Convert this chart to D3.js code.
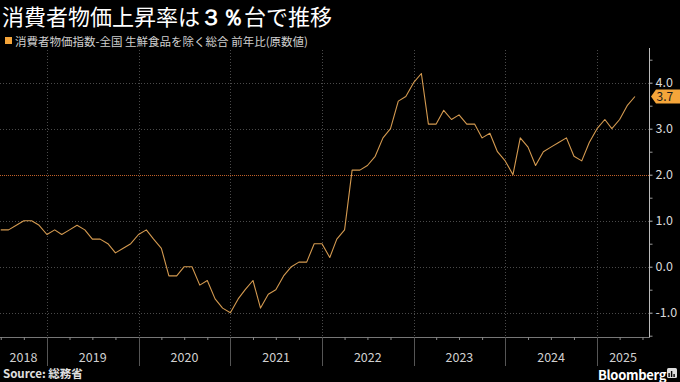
<!DOCTYPE html>
<html><head><meta charset="utf-8">
<script src="https://cdn.jsdelivr.net/npm/d3@7"></script>
<style>
html,body{margin:0;padding:0;background:#000;}
svg{display:block;}
text{font-family:"Noto Sans CJK JP","Noto Sans",sans-serif;}
</style></head>
<body>
<svg id="chart" width="680" height="382"></svg>
<script>
// ---- data (monthly y/y %, core CPI ex fresh food) ----
const startYear = 2018, startMonth = 6; // first value is June 2018
const cpi2018 = [0.8, 0.8, 0.9, 1.0, 1.0, 0.9, 0.7];
const cpi2019 = [0.8, 0.7, 0.8, 0.9, 0.8, 0.6, 0.6, 0.5, 0.3, 0.4, 0.5, 0.7];
const cpi2020 = [0.8, 0.6, 0.4, -0.2, -0.2, 0.0, 0.0, -0.4, -0.3, -0.7, -0.9, -1.0];
const cpi2021 = [-0.7, -0.5, -0.3, -0.9, -0.6, -0.5, -0.2, 0.0, 0.1, 0.1, 0.5, 0.5];
const cpi2022 = [0.2, 0.6, 0.8, 2.1, 2.1, 2.2, 2.4, 2.8, 3.0, 3.6, 3.7, 4.0];
const cpi2023 = [4.2, 3.1, 3.1, 3.4, 3.2, 3.3, 3.1, 3.1, 2.8, 2.9, 2.5, 2.3];
const cpi2024 = [2.0, 2.8, 2.6, 2.2, 2.5, 2.6, 2.7, 2.8, 2.4, 2.3, 2.7, 3.0];
const cpi2025 = [3.2, 3.0, 3.2, 3.5, 3.7];
const yearLabels = ["2018","2019","2020","2021","2022","2023","2024","2025"];
const yTicks = [-1, 0, 1, 2, 3, 4];
const targetValue = 2.0;
const title = "消費者物価上昇率は";
const titleBold = "３％";
const titleEnd = "台で推移";
const legendLabel = "消費者物価指数-全国 生鮮食品を除く総合 前年比(原数値)";
const sourceText = "Source: 総務省";

// ---- build series ----
const allValues = [].concat(cpi2018, cpi2019, cpi2020, cpi2021, cpi2022, cpi2023, cpi2024, cpi2025);
const series = allValues.map((v, i) => {
  // month-end point: plotted at start of following month
  const d = new Date(startYear, startMonth - 1 + i + 1, 1);
  return {date: d, value: v};
});

const svg = d3.select("#chart");
const W = 680, H = 382;
const plot = {left: 0, right: 649, top: 50, bottom: 337};

const x = d3.scaleTime()
  .domain([new Date(2018, 5, 28), new Date(2025, 6, 27)])
  .range([plot.left, plot.right]);
const y = d3.scaleLinear().domain([-1, 4]).range([312.7, 82.7]);

svg.append("rect").attr("width", W).attr("height", H).attr("fill", "#000");

// title
const t = svg.append("text").attr("x", 2).attr("y", 25)
  .attr("fill", "#ffffff").attr("font-size", 22);
t.append("tspan").text(title);
t.append("tspan").attr("font-weight", "bold").attr("font-family", "'DejaVu Sans',sans-serif").text(titleBold);
t.append("tspan").text(titleEnd);

// legend
svg.append("rect").attr("x", 5).attr("y", 37).attr("width", 7).attr("height", 7).attr("fill", "#f5a53a");
svg.append("text").attr("x", 15).attr("y", 45.5).attr("fill", "#cfcfcf")
  .attr("font-size", 11.5).text(legendLabel);

// horizontal grid
const gridG = svg.append("g");
yTicks.forEach(v => {
  if (v === targetValue) return;
  gridG.append("line").attr("x1", plot.left).attr("x2", plot.right)
    .attr("y1", Math.round(y(v)) + 0.5).attr("y2", Math.round(y(v)) + 0.5)
    .attr("stroke", "#4a4a4a").attr("stroke-width", 1).attr("stroke-dasharray", "1,2");
});
// vertical year grid
const yearStarts = d3.timeYear.range(new Date(2019, 0, 1), x.domain()[1]);
yearStarts.forEach(d => {
  gridG.append("line").attr("x1", Math.round(x(d)) + 0.5).attr("x2", Math.round(x(d)) + 0.5)
    .attr("y1", plot.top).attr("y2", plot.bottom)
    .attr("stroke", "#4a4a4a").attr("stroke-width", 1).attr("stroke-dasharray", "1,2");
});
// target line
gridG.append("line").attr("x1", plot.left).attr("x2", plot.right)
  .attr("y1", Math.round(y(targetValue)) + 0.5).attr("y2", Math.round(y(targetValue)) + 0.5)
  .attr("stroke", "#c0602a").attr("stroke-width", 1).attr("stroke-dasharray", "1,1");

// data line
const line = d3.line().x(d => x(d.date)).y(d => y(d.value));
svg.append("path").datum(series).attr("d", line)
  .attr("fill", "none").attr("stroke", "#d49a50").attr("stroke-width", 1.1)
  .attr("stroke-linejoin", "round");

// right axis
const yAxis = d3.axisRight(y).tickValues(yTicks).tickSize(3).tickPadding(3)
  .tickFormat(d3.format(".1f"));
const yAxisG = svg.append("g").attr("transform", `translate(${plot.right + 0.5},0)`).call(yAxis);
yAxisG.select(".domain").remove();
yAxisG.selectAll("line").attr("stroke", "#bbb");
yAxisG.selectAll("text").attr("fill", "#d8d8d8").attr("font-size", 12.5).attr("dy", "0.28em")
  .attr("font-family", "'Noto Sans',sans-serif").text(d => d < 0 ? "-" + Math.abs(d).toFixed(1) : d.toFixed(1));
// minor half ticks
const minorY = d3.axisRight(y).tickValues(d3.range(-1.5, 4.6, 1)).tickSize(3).tickFormat("");
const minorG = svg.append("g").attr("transform", `translate(${plot.right + 0.5},0)`).call(minorY);
minorG.select(".domain").remove();
minorG.selectAll("line").attr("stroke", "#999");
svg.append("line").attr("x1", plot.right + 0.5).attr("x2", plot.right + 0.5)
  .attr("y1", plot.top - 2).attr("y2", plot.bottom).attr("stroke", "#bbb");

// bottom axis
svg.append("line").attr("x1", plot.left).attr("x2", plot.right + 1)
  .attr("y1", plot.bottom + 0.5).attr("y2", plot.bottom + 0.5).attr("stroke", "#777");
const quarterTicks = d3.timeMonth.every(3).range(x.domain()[0], x.domain()[1])
  .filter(d => d.getMonth() !== 0);
const xMinor = d3.axisBottom(x).tickValues(quarterTicks).tickSize(3).tickFormat("");
const xMinorG = svg.append("g").attr("transform", `translate(0,${plot.bottom})`).call(xMinor);
xMinorG.select(".domain").remove();
xMinorG.selectAll("line").attr("stroke", "#888");
yearStarts.forEach(d => {
  svg.append("line").attr("x1", Math.round(x(d)) + 0.5).attr("x2", Math.round(x(d)) + 0.5)
    .attr("y1", plot.bottom).attr("y2", 366).attr("stroke", "#555");
});
yearLabels.forEach(lbl => {
  const yr = +lbl;
  const a = Math.max(x(new Date(yr, 0, 1)), plot.left);
  const b = Math.min(x(new Date(yr + 1, 0, 1)), plot.right);
  svg.append("text").attr("x", (a + b) / 2).attr("y", 362).attr("text-anchor", "middle")
    .attr("fill", "#d0d0d0").attr("font-size", 12.5).attr("font-family", "'Noto Sans',sans-serif")
    .text(lbl);
});

// last value tag
const last = series[series.length - 1];
const ty = y(last.value);
svg.append("path")
  .attr("d", `M651,${ty} L656,${ty - 7} L680,${ty - 7} L680,${ty + 7} L656,${ty + 7} Z`)
  .attr("fill", "#f5a53a");
svg.append("text").attr("x", 656.5).attr("y", ty + 4.6).attr("fill", "#1a1a1a")
  .attr("font-size", 12).attr("font-family", "'Noto Sans',sans-serif").text(last.value.toFixed(1));

// footer
svg.append("text").attr("x", 3).attr("y", 378).attr("fill", "#e0e0e0")
  .attr("font-size", 11.5).attr("font-weight", "bold").text(sourceText);
svg.append("text").attr("x", 598).attr("y", 379.5).attr("fill", "#ffffff")
  .attr("font-size", 13).attr("font-weight", "bold").attr("letter-spacing", -0.3)
  .attr("font-family", "'Liberation Sans','Noto Sans',sans-serif").text("Bloomberg");
// logo icon
const lg = svg.append("g").attr("transform", "translate(667,368)");
lg.append("rect").attr("width", 10).attr("height", 10).attr("rx", 1.5).attr("fill", "#ddd");
[[2,5,4],[4.5,3,6],[7,6,3]].forEach(([bx, by, bh]) => {
  lg.append("rect").attr("x", bx - 0.6).attr("y", by).attr("width", 1.4).attr("height", bh).attr("fill", "#000");
});
</script>
</body></html>
